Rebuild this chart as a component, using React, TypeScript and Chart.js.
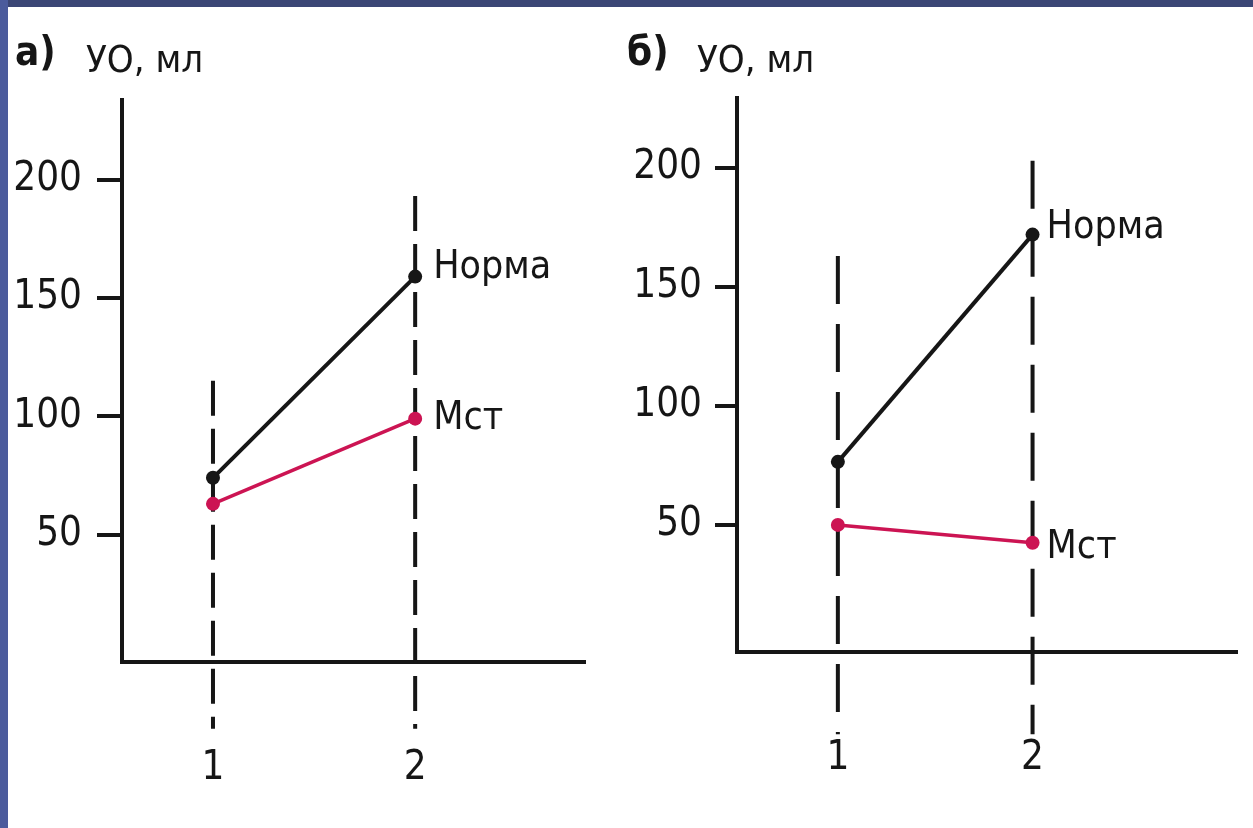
import React, { useEffect, useRef } from "react";
import { Chart, registerables } from "chart.js";

Chart.register(...registerables);

// ---- data ----
const categories = [1, 2];
const xTickLabels = ["1", "2"];
const yTicks = [50, 100, 150, 200];

const normaA = [74, 159];
const mstA = [63, 99];
const guideTopA = [115, 193];
const guideBottomA = [-32, -32];

const normaB = [76.5, 172];
const mstB = [50, 42.5];
const guideTopB = [163, 203];
const guideBottomB = [-38, -38];

const seriesNames = ["Норма", "Мст"];
const panelTitles = ["а)", "б)"];
const axisTitle = "УО, мл";

const FONT = "'DejaVu Sans Condensed', 'Liberation Sans Narrow', 'Liberation Sans', sans-serif";
const MAGENTA = "#cc1453";
const INK = "#161616";

const endLabelPlugin = {
  id: "endLabel",
  afterDatasetsDraw(chart: any) {
    const ctx = chart.ctx;
    chart.data.datasets.forEach((ds: any, i: number) => {
      if (!ds.endLabel) return;
      const meta = chart.getDatasetMeta(i);
      const pt = meta.data[meta.data.length - 1];
      if (!pt) return;
      ctx.save();
      ctx.font = `39px ${FONT}`;
      ctx.fillStyle = INK;
      ctx.textBaseline = "middle";
      ctx.textAlign = "left";
      ctx.fillText(ds.label, pt.x + ds.endLabelDx, pt.y + ds.endLabelDy);
      ctx.restore();
    });
  },
};

type PanelOpts = {
  norma: number[];
  mst: number[];
  guideTop: number[];
  guideBottom: number[];
  xMin: number;
  xMax: number;
  yMin: number;
  yMax: number;
  yAxisWidth: number;
  xAxisHeight: number;
  padTop: number;
  padRight: number;
  tickLen: number;
  yPad: number;
  dash: number[];
  normaDy: number;
  mstDy: number;
  labelDx: number;
};

function buildConfig(p: PanelOpts): any {
  const pts = (vals: number[]) => categories.map((c, i) => ({ x: c, y: vals[i] }));
  const guides = categories.map((c, i) => ({
    label: "guide" + i,
    data: [
      { x: c, y: p.guideTop[i] },
      { x: c, y: p.guideBottom[i] },
    ],
    borderColor: INK,
    borderWidth: 4,
    borderDash: p.dash,
    pointRadius: 0,
    clip: false,
    order: 3,
  }));
  return {
    type: "line",
    data: {
      datasets: [
        ...guides,
        {
          label: seriesNames[1],
          data: pts(p.mst),
          borderColor: MAGENTA,
          backgroundColor: MAGENTA,
          borderWidth: 3.5,
          pointRadius: 7,
          pointBorderWidth: 0,
          endLabel: true,
          endLabelDx: p.labelDx,
          endLabelDy: p.mstDy,
          order: 2,
        },
        {
          label: seriesNames[0],
          data: pts(p.norma),
          borderColor: INK,
          backgroundColor: INK,
          borderWidth: 4,
          pointRadius: 7,
          pointBorderWidth: 0,
          endLabel: true,
          endLabelDx: p.labelDx,
          endLabelDy: p.normaDy,
          order: 1,
        },
      ],
    },
    options: {
      responsive: false,
      animation: false,
      devicePixelRatio: 1,
      layout: { padding: { top: p.padTop, right: p.padRight, left: 0, bottom: 0 } },
      plugins: { legend: { display: false }, tooltip: { enabled: false }, title: { display: false } },
      scales: {
        x: {
          type: "linear",
          min: p.xMin,
          max: p.xMax,
          afterBuildTicks: (s: any) => {
            s.ticks = categories.map((v) => ({ value: v }));
          },
          afterFit: (s: any) => {
            s.height = p.xAxisHeight;
          },
          grid: { display: false },
          border: { display: true, color: INK, width: 4 },
          ticks: {
            padding: 75,
            color: INK,
            font: { family: FONT, size: 40 },
            callback: (v: number) => xTickLabels[categories.indexOf(v)] ?? "",
          },
        },
        y: {
          type: "linear",
          min: p.yMin,
          max: p.yMax,
          afterBuildTicks: (s: any) => {
            s.ticks = yTicks.map((v) => ({ value: v }));
          },
          afterFit: (s: any) => {
            s.width = p.yAxisWidth;
          },
          grid: {
            display: true,
            drawOnChartArea: false,
            drawTicks: true,
            tickLength: p.tickLen,
            color: INK,
            lineWidth: 4,
          },
          border: { display: true, color: INK, width: 4 },
          ticks: {
            padding: p.yPad,
            color: INK,
            font: { family: FONT, size: 40 },
            callback: (v: number) => String(v),
          },
        },
      },
    },
    plugins: [endLabelPlugin],
  };
}

function Panel(props: { opts: PanelOpts; left: number; width: number }) {
  const ref = useRef<HTMLCanvasElement | null>(null);
  useEffect(() => {
    if (!ref.current) return;
    const chart = new Chart(ref.current, buildConfig(props.opts));
    return () => chart.destroy();
  }, []);
  return (
    <canvas
      ref={ref}
      width={props.width}
      height={828}
      style={{ position: "absolute", left: props.left, top: 0, width: props.width, height: 828 }}
    />
  );
}

const panelA: PanelOpts = {
  norma: normaA,
  mst: mstA,
  guideTop: guideTopA,
  guideBottom: guideBottomA,
  xMin: 0.55,
  xMax: 2.84,
  yMin: -3.8,
  yMax: 233.6,
  yAxisWidth: 122,
  xAxisHeight: 166,
  padTop: 100,
  padRight: 35,
  tickLen: 25,
  yPad: 15,
  dash: [35, 13],
  normaDy: -9,
  mstDy: 0,
  labelDx: 18,
};

const panelB: PanelOpts = {
  norma: normaB,
  mst: mstB,
  guideTop: guideTopB,
  guideBottom: guideBottomB,
  xMin: 0.482,
  xMax: 3.05,
  yMin: -3.4,
  yMax: 229.4,
  yAxisWidth: 117,
  xAxisHeight: 176,
  padTop: 98,
  padRight: 16,
  tickLen: 22,
  yPad: 13,
  dash: [48, 20],
  normaDy: -7,
  mstDy: 5,
  labelDx: 14,
};

export default function App() {
  useEffect(() => {
    document.body.style.margin = "0";
  }, []);
  const titleStyle = (left: number, top: number, bold: boolean, size: number): React.CSSProperties => ({
    position: "absolute",
    left,
    top,
    fontFamily: FONT,
    fontSize: size,
    lineHeight: 1,
    fontWeight: bold ? 700 : 400,
    color: INK,
    whiteSpace: "nowrap",
  });
  return (
    <div style={{ position: "relative", width: 1253, height: 828, background: "#ffffff", overflow: "hidden" }}>
      <Panel opts={panelA} left={0} width={620} />
      <Panel opts={panelB} left={620} width={633} />
      <span style={titleStyle(15, 31, true, 40)}>{panelTitles[0]}</span>
      <span style={titleStyle(86, 40, false, 38)}>{axisTitle}</span>
      <span style={titleStyle(627, 31, true, 40)}>{panelTitles[1]}</span>
      <span style={titleStyle(697, 40, false, 38)}>{axisTitle}</span>
      <div style={{ position: "absolute", left: 0, top: 0, width: 1253, height: 7, background: "#3b4675" }} />
      <div style={{ position: "absolute", left: 0, top: 0, width: 8, height: 828, background: "#4b5b9c" }} />
    </div>
  );
}
